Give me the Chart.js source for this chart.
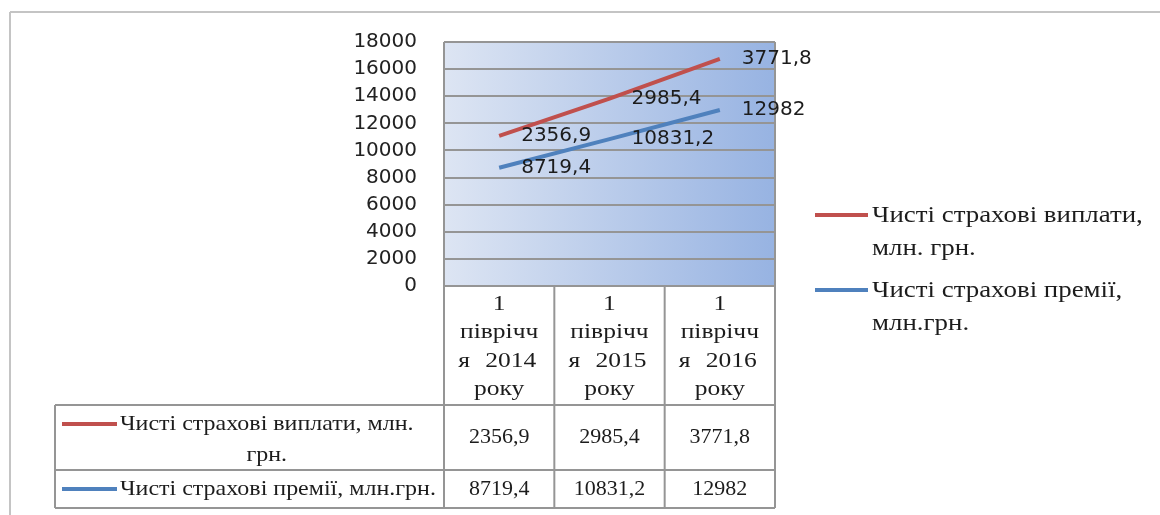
<!DOCTYPE html>
<html>
<head>
<meta charset="utf-8">
<script src="https://cdn.jsdelivr.net/npm/chart.js@4.4.1/dist/chart.umd.min.js"></script>
<style>
    html, body { margin: 0; padding: 0; background: #fff; }
    #wrap { width: 1160px; height: 515px; }
</style>
</head>
<body>
<div id="wrap"><canvas id="chart" width="1160" height="515"></canvas></div>
<script>
// Categories (header cells of the data table, already wrapped as in the picture)
const categories = [
    ['1', 'піврічч', 'я 2014', 'року'],
    ['1', 'піврічч', 'я 2015', 'року'],
    ['1', 'піврічч', 'я 2016', 'року']
];

// Series values, mln UAH
const payments = [2356.9, 2985.4, 3771.8];   // Чисті страхові виплати
const premiums = [8719.4, 10831.2, 12982];   // Чисті страхові премії

// Labels
const paymentsLegend = ['Чисті страхові виплати,', 'млн. грн.'];
const premiumsLegend = ['Чисті страхові премії,', 'млн.грн.'];
const paymentsRow = ['Чисті страхові виплати, млн.', 'грн.'];
const premiumsRow = ['Чисті страхові премії, млн.грн.'];

// Value axis
const yMin = 0;
const yMax = 18000;
const yStep = 2000;

const RED = '#c0504d';
const BLUE = '#4f81bd';
const LINE_GRAY = '#959595';
const TEXT = '#1c1c1c';
const SANS = 'DejaVu Sans';
const SERIF = 'Liberation Serif';

const fmt = v => String(v).replace('.', ',');

function drawText(ctx, text, x, y, align, font, sx = 1) {
    ctx.save();
    ctx.font = font;
    ctx.fillStyle = TEXT;
    ctx.textAlign = align;
    ctx.textBaseline = 'middle';
    ctx.translate(x, y);
    ctx.scale(sx, 1);
    ctx.fillText(text, 0, 0);
    ctx.restore();
}

function line(ctx, x1, y1, x2, y2, color, width) {
    ctx.save();
    ctx.strokeStyle = color;
    ctx.lineWidth = width;
    ctx.lineCap = 'butt';
    ctx.beginPath();
    ctx.moveTo(x1, y1);
    ctx.lineTo(x2, y2);
    ctx.stroke();
    ctx.restore();
}

const excelLook = {
    id: 'excelLook',
    beforeDraw(chart) {
        const { ctx, chartArea: a } = chart;
        ctx.save();
        ctx.fillStyle = '#fff';
        ctx.fillRect(0, 0, chart.width, chart.height);
        const g = ctx.createLinearGradient(a.left, 0, a.right, 0);
        g.addColorStop(0, '#dde5f3');
        g.addColorStop(1, '#97b3e2');
        ctx.fillStyle = g;
        ctx.fillRect(a.left, a.top, a.width, a.height);
        ctx.restore();
    },
    afterDraw(chart) {
        const { ctx, chartArea: a } = chart;
        const band = a.width / categories.length;
        const tableLeft = 55;
        const headBottom = a.bottom + 119;
        const row1Bottom = headBottom + 65;
        const row2Bottom = row1Bottom + 38;

        // outer frame (only top and left edges visible)
        line(ctx, 10, 12, chart.width, 12, '#c4c4c4', 2);
        line(ctx, 10, 12, 10, chart.height, '#c4c4c4', 2);

        // plot borders and table grid
        line(ctx, a.left, a.top, a.left, row2Bottom, LINE_GRAY, 2);
        line(ctx, a.right, a.top, a.right, row2Bottom, LINE_GRAY, 2);
        for (let k = 1; k < categories.length; k++) {
            const x = a.left + k * band;
            line(ctx, x, a.bottom, x, row2Bottom, LINE_GRAY, 2);
        }
        line(ctx, tableLeft, headBottom, a.right, headBottom, LINE_GRAY, 2);
        line(ctx, tableLeft, row1Bottom, a.right, row1Bottom, LINE_GRAY, 2);
        line(ctx, tableLeft, row2Bottom, a.right, row2Bottom, LINE_GRAY, 2);
        line(ctx, tableLeft, headBottom, tableLeft, row2Bottom, LINE_GRAY, 2);

        const tableFont = `22px "${SERIF}"`;

        // header cells (wrapped, justified lines)
        categories.forEach((lines, i) => {
            const cx = a.left + (i + 0.5) * band;
            lines.forEach((t, j) => {
                const y = a.bottom + 18 + j * 28.5;
                const words = t.split(' ');
                if (words.length > 1) {
                    drawText(ctx, words[0], cx - 41, y, 'left', tableFont, 1.16);
                    drawText(ctx, words[words.length - 1], cx + 37, y, 'right', tableFont, 1.16);
                } else {
                    drawText(ctx, t, cx, y, 'center', tableFont, 1.16);
                }
            });
        });

        // data rows
        const rows = [
            { color: RED, text: paymentsRow, values: payments, top: headBottom, bottom: row1Bottom },
            { color: BLUE, text: premiumsRow, values: premiums, top: row1Bottom, bottom: row2Bottom }
        ];
        const rowScale = 1.09;
        rows.forEach(r => {
            const cy = (r.top + r.bottom) / 2;
            const n = r.text.length;
            const firstY = cy - (n - 1) * 13.5;
            line(ctx, 62, firstY, 117, firstY, r.color, 4);
            ctx.font = tableFont;
            const w1 = ctx.measureText(r.text[0]).width * rowScale;
            r.text.forEach((t, j) => {
                drawText(ctx, t, 120 + w1 / 2, firstY + j * 31, 'center', tableFont, rowScale);
            });
            r.values.forEach((v, i) => {
                drawText(ctx, fmt(v), a.left + (i + 0.5) * band, cy, 'center', tableFont);
            });
        });

        // legend
        const legendFont = `24px "${SERIF}"`;
        const legend = [
            { color: RED, text: paymentsLegend, y: 215 },
            { color: BLUE, text: premiumsLegend, y: 290 }
        ];
        legend.forEach(l => {
            line(ctx, a.right + 40, l.y, a.right + 93, l.y, l.color, 4);
            l.text.forEach((t, j) => {
                drawText(ctx, t, a.right + 97, l.y + 1 + j * 33, 'left', legendFont, 1.12);
            });
        });

        // data labels (original values at stacked positions)
        chart.data.datasets.forEach((ds, di) => {
            chart.getDatasetMeta(di).data.forEach((pt, i) => {
                drawText(ctx, fmt(ds.data[i]), pt.x + 22, pt.y, 'left', `20px "${SANS}"`);
            });
        });
    }
};

new Chart(document.getElementById('chart'), {
    type: 'line',
    data: {
        labels: categories,
        datasets: [
            {
                label: premiumsLegend.join(' '),
                data: premiums,
                borderColor: BLUE,
                borderWidth: 4,
                pointRadius: 0,
                fill: false,
                tension: 0
            },
            {
                label: paymentsLegend.join(' '),
                data: payments,
                borderColor: RED,
                borderWidth: 4,
                pointRadius: 0,
                fill: false,
                tension: 0
            }
        ]
    },
    options: {
        responsive: false,
        animation: false,
        devicePixelRatio: 1,
        layout: { padding: { top: 42, right: 385, bottom: 229, left: 0 } },
        plugins: {
            legend: { display: false },
            tooltip: { enabled: false }
        },
        scales: {
            x: {
                display: false,
                offset: true
            },
            y: {
                stacked: true,
                min: yMin,
                max: yMax,
                afterFit(scale) { scale.width = 444; },
                ticks: {
                    stepSize: yStep,
                    padding: 27,
                    color: '#222',
                    font: { family: SANS, size: 20 },
                    callback: v => String(v)
                },
                grid: { color: LINE_GRAY, lineWidth: 2, drawTicks: false },
                border: { display: false }
            }
        }
    },
    plugins: [excelLook]
});
</script>
</body>
</html>
